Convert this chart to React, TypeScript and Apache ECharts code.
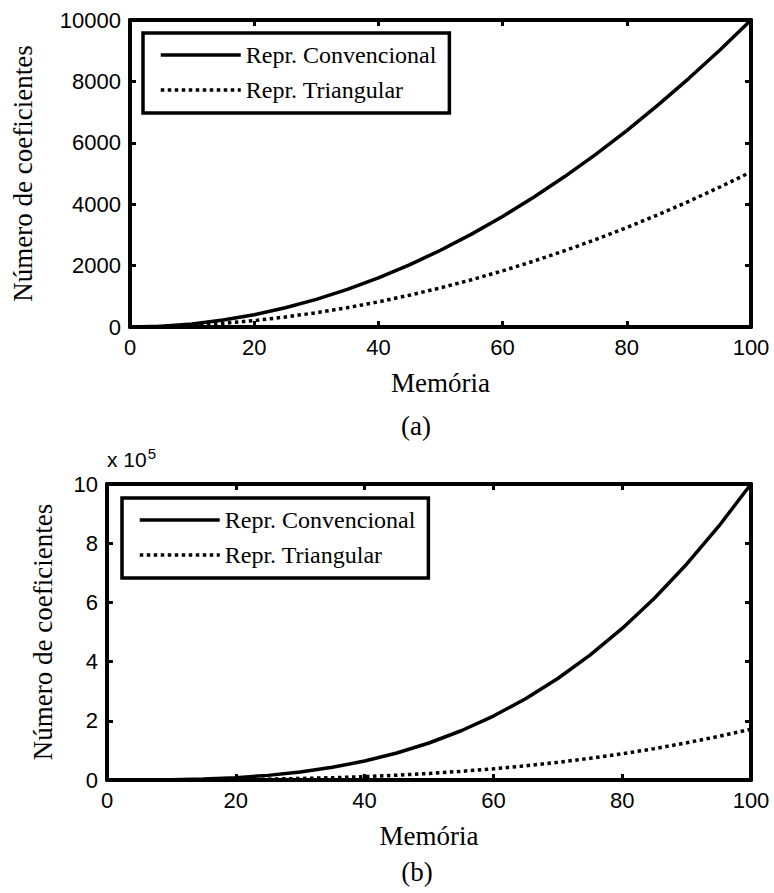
import React, { useEffect, useRef } from "react";
import * as echarts from "echarts";

const memory = [0, 5, 10, 15, 20, 25, 30, 35, 40, 45, 50, 55, 60, 65, 70, 75, 80, 85, 90, 95, 100];
const convA = [0, 25, 100, 225, 400, 625, 900, 1225, 1600, 2025, 2500, 3025, 3600, 4225, 4900, 5625, 6400, 7225, 8100, 9025, 10000];
const triA = [0, 15, 55, 120, 210, 325, 465, 630, 820, 1035, 1275, 1540, 1830, 2145, 2485, 2850, 3240, 3655, 4095, 4560, 5050];
const convB = [0, 125, 1000, 3375, 8000, 15625, 27000, 42875, 64000, 91125, 125000, 166375, 216000, 274625, 343000, 421875, 512000, 614125, 729000, 857375, 1000000];
const triB = [0, 35, 220, 680, 1540, 2925, 4960, 7770, 11480, 16215, 22100, 29260, 37820, 47905, 59640, 73150, 88560, 105995, 125580, 147440, 171700];

const seriesNames = ["Repr. Convencional", "Repr. Triangular"];
const xTitle = "Memória";
const yTitle = "Número de coeficientes";
const captions = ["(a)", "(b)"];

const SANS = "Liberation Sans, Arial, sans-serif";
const SERIF = "Liberation Serif, Times New Roman, serif";

export default function App() {
  const ref = useRef<HTMLDivElement>(null);
  useEffect(() => {
    if (!ref.current) return;
    const chart = echarts.init(ref.current, null, { renderer: "svg" });
    const tickStyle = { show: true, inside: true, length: 6, lineStyle: { color: "#000", width: 3 } };
    const axisLine = { show: true, onZero: false, lineStyle: { color: "#000", width: 4 } };
    const labelStyle = { color: "#000", fontFamily: SANS, fontSize: 22, margin: 9 };
    const mkX = (grid: number, pos: "bottom" | "top", main: boolean) => ({
      type: "value",
      gridIndex: grid,
      position: pos,
      min: 0,
      max: 100,
      interval: 20,
      axisLine,
      axisTick: tickStyle,
      splitLine: { show: false },
      axisLabel: main ? { ...labelStyle, formatter: (v: number) => String(v) } : { show: false },
      name: main ? xTitle : "",
      nameLocation: "middle",
      nameGap: 42,
      nameTextStyle: { color: "#000", fontFamily: SERIF, fontSize: 27 },
    });
    const mkY = (grid: number, pos: "left" | "right", main: boolean, max: number, interval: number, fmt: (v: number) => string, gap = 90) => ({
      type: "value",
      gridIndex: grid,
      position: pos,
      min: 0,
      max,
      interval,
      axisLine,
      axisTick: tickStyle,
      splitLine: { show: false },
      axisLabel: main ? { ...labelStyle, formatter: fmt } : { show: false },
      name: main ? yTitle : "",
      nameLocation: "middle",
      nameGap: gap,
      nameTextStyle: { color: "#000", fontFamily: SERIF, fontSize: 27 },
    });
    const legendBase = {
      orient: "vertical",
      itemWidth: 80,
      itemHeight: 14,
      itemGap: 9,
      padding: [9, 13, 10, 16],
      borderColor: "#000",
      borderWidth: 3.5,
      backgroundColor: "#fff",
      borderRadius: 0,
      itemStyle: { opacity: 0 },
      lineStyle: { width: 3.5 },
      textStyle: { color: "#000", fontFamily: SERIF, fontSize: 24, lineHeight: 26 },
      data: seriesNames,
    };
    const solid = { color: "#000", width: 3.5, type: "solid" };
    const dotted = { color: "#000", width: 3.5, type: [3.5, 3.5], cap: "butt" };
    const mk = (data: number[]) => memory.map((m, i) => [m, data[i]]);
    const plain = (v: number) => String(v);
    chart.setOption({
      animation: false,
      backgroundColor: "#fff",
      grid: [
        { left: 130, top: 20, width: 621, height: 307 },
        { left: 107, top: 484, width: 644, height: 296 },
      ],
      xAxis: [mkX(0, "bottom", true), mkX(0, "top", false), mkX(1, "bottom", true), mkX(1, "top", false)],
      yAxis: [
        mkY(0, "left", true, 10000, 2000, plain, 94),
        mkY(0, "right", false, 10000, 2000, plain),
        mkY(1, "left", true, 1000000, 200000, (v: number) => String(v / 100000), 51),
        mkY(1, "right", false, 1000000, 200000, plain),
      ],
      legend: [
        { ...legendBase, left: 143, top: 33 },
        { ...legendBase, left: 122, top: 498 },
      ],
      series: [
        { name: seriesNames[0], type: "line", xAxisIndex: 0, yAxisIndex: 0, data: mk(convA), symbol: "none", lineStyle: solid, itemStyle: { color: "#000" } },
        { name: seriesNames[1], type: "line", xAxisIndex: 0, yAxisIndex: 0, data: mk(triA), symbol: "none", lineStyle: dotted, itemStyle: { color: "#000" } },
        { name: seriesNames[0], type: "line", xAxisIndex: 2, yAxisIndex: 2, data: mk(convB), symbol: "none", lineStyle: solid, itemStyle: { color: "#000" } },
        { name: seriesNames[1], type: "line", xAxisIndex: 2, yAxisIndex: 2, data: mk(triB), symbol: "none", lineStyle: dotted, itemStyle: { color: "#000" } },
      ],
      graphic: [
        { type: "text", left: 107, top: 446, style: { text: "x 10{s|5}", fill: "#000", font: `21px ${SANS}`, rich: { s: { fontSize: 15, fontFamily: SANS, verticalAlign: "top", padding: [0, 0, 12, 1] } } } },
        { type: "text", x: 416, y: 426, style: { text: captions[0], fill: "#000", font: `27px ${SERIF}`, align: "center", verticalAlign: "middle" } },
        { type: "text", x: 417, y: 872, style: { text: captions[1], fill: "#000", font: `27px ${SERIF}`, align: "center", verticalAlign: "middle" } },
      ],
    });
    return () => chart.dispose();
  }, []);
  return <div ref={ref} style={{ position: "absolute", left: 0, top: 0, width: 774, height: 893 }} />;
}
